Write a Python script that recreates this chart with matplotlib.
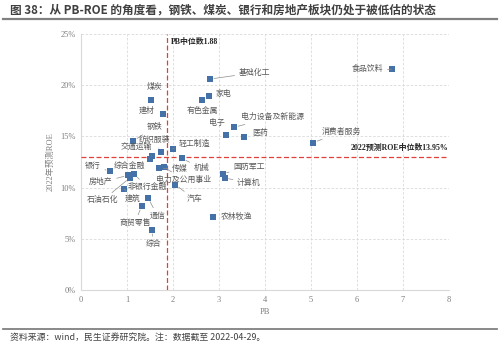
import matplotlib
matplotlib.use("Agg")
import matplotlib.pyplot as plt
from matplotlib.lines import Line2D
from matplotlib.ticker import FuncFormatter

plt.rcParams["font.family"] = ["Liberation Serif", "Noto Sans CJK SC", "DejaVu Sans"]

# 行业数据：PB 与 2022 年预测 ROE（%）
sectors = ["食品饮料", "基础化工", "家电", "有色金属", "煤炭", "建材", "钢铁",
           "电子", "电力设备及新能源", "医药", "消费者服务", "纺织服装", "轻工制造",
           "交通运输", "综合金融", "机械", "传媒", "电力及公用事业", "银行",
           "房地产", "石油石化", "非银行金融", "建筑", "汽车", "通信", "商贸零售",
           "综合", "农林牧渔", "国防军工", "计算机"]
pb = [6.75, 2.80, 2.78, 2.62, 1.52, 1.78, 1.14,
      3.15, 3.33, 3.54, 5.05, 1.74, 1.99,
      1.54, 1.49, 2.20, 1.70, 1.80, 0.63,
      1.02, 1.06, 1.16, 0.94, 2.05, 1.46, 1.32,
      1.54, 2.88, 3.08, 3.12]
roe = [21.55, 20.6, 18.95, 18.55, 18.55, 17.15, 14.58,
       15.1, 15.9, 14.9, 14.4, 13.5, 13.77,
       13.1, 12.8, 12.85, 11.9, 12.0, 11.6,
       11.2, 10.95, 11.3, 9.86, 10.3, 9.0, 8.2,
       5.9, 7.1, 11.35, 10.95]

# 标签位置（数据坐标）以及是否画引线
label_x = [6.23, 3.77, 3.10, 2.65, 1.59, 1.43, 1.59,
           2.96, 4.17, 3.89, 5.67, 1.59, 2.46,
           1.20, 1.05, 2.62, 2.15, 2.24, 0.26,
           0.43, 0.47, 1.44, 1.13, 2.46, 1.66, 1.17,
           1.57, 3.39, 3.65, 3.65]
label_y = [21.55, 21.22, 19.11, 17.48, 19.80, 17.48, 15.89,
           16.34, 16.87, 15.36, 15.43, 14.65, 14.26,
           13.84, 12.11, 11.88, 11.79, 10.80, 12.11,
           10.52, 8.76, 10.05, 8.89, 8.89, 7.26, 6.57,
           4.46, 7.16, 12.04, 10.48]
leader = [1, 1, 0, 0, 0, 0, 1,
          0, 1, 0, 1, 1, 1,
          1, 1, 1, 1, 1, 1,
          1, 1, 1, 1, 1, 1, 1,
          1, 0, 1, 1]

pb_median = 1.88
roe_median = 12.95
pb_median_text = "PB中位数1.88"
roe_median_text = "2022预测ROE中位数13.95%"

C_BLUE = "#4472A8"
C_RED = "#E0403A"
C_TEXT = "#595959"
C_GRID = "#D9D9D9"
FS = 5.7

fig = plt.figure(figsize=(5, 3.47), dpi=100)
ax = fig.add_axes([0.162, 0.164, 0.736, 0.738])

ax.scatter(pb, roe, marker="s", s=24, color=C_BLUE, zorder=4, linewidths=0)

for name, px, py, lx, ly, ld in zip(sectors, pb, roe, label_x, label_y, leader):
    if ld:
        ax.annotate(name, xy=(px, py), xytext=(lx, ly), ha="center", va="center",
                    fontsize=FS, color=C_TEXT, zorder=5,
                    arrowprops=dict(arrowstyle="-", color="#8C8C8C", lw=0.5,
                                    shrinkA=1, shrinkB=3))
    else:
        ax.text(lx, ly, name, ha="center", va="center", fontsize=FS,
                color=C_TEXT, zorder=5)

ax.axvline(pb_median, color=C_RED, lw=0.9, ls=(0, (4, 2)), zorder=3)
ax.axhline(roe_median, color=C_RED, lw=0.9, ls=(0, (4, 2)), zorder=3)
ax.text(pb_median + 0.08, 24.25, pb_median_text, fontsize=FS, fontweight="bold",
        color="#262626", va="center", ha="left")
ax.text(7.98, 13.85, roe_median_text, fontsize=FS, fontweight="bold",
        color="#262626", va="center", ha="right")

ax.set_xlim(0, 8)
ax.set_ylim(0, 25)
ax.set_xticks(range(0, 9))
ax.set_yticks(range(0, 26, 5))
ax.yaxis.set_major_formatter(FuncFormatter(lambda v, p: f"{int(v)}%"))
ax.grid(True, color=C_GRID, ls=(0, (3, 2)), lw=0.6)
ax.set_axisbelow(True)
for s in ["top", "right"]:
    ax.spines[s].set_visible(False)
for s in ["left", "bottom"]:
    ax.spines[s].set_color(C_GRID)
    ax.spines[s].set_linewidth(0.8)
ax.tick_params(length=0, labelsize=6, labelcolor="#7F7F7F", pad=4)
ax.set_xlabel("PB", fontsize=6, color="#7F7F7F", labelpad=3)
ax.set_ylabel("2022年预测ROE", fontsize=6, color="#7F7F7F", labelpad=4)

# 标题和来源
fig.text(0.02, 0.972, "图 38：从 PB-ROE 的角度看，钢铁、煤炭、银行和房地产板块仍处于被低估的状态",
         fontsize=8.4, fontweight="bold", color="#404040", va="center", ha="left",
         family=["Noto Sans CJK SC", "DejaVu Sans"])
fig.add_artist(Line2D([0.006, 0.994], [0.945, 0.945], transform=fig.transFigure,
                      color="#808080", lw=1.6))
fig.add_artist(Line2D([0.006, 0.994], [0.052, 0.052], transform=fig.transFigure,
                      color="#808080", lw=1.3))
fig.text(0.02, 0.024, "资料来源：wind，民生证券研究院。注：数据截至 2022-04-29。",
         fontsize=6.4, color="#404040", va="center", ha="left",
         family=["Noto Sans CJK SC", "DejaVu Sans"])

fig.savefig("out.png", dpi=100)
